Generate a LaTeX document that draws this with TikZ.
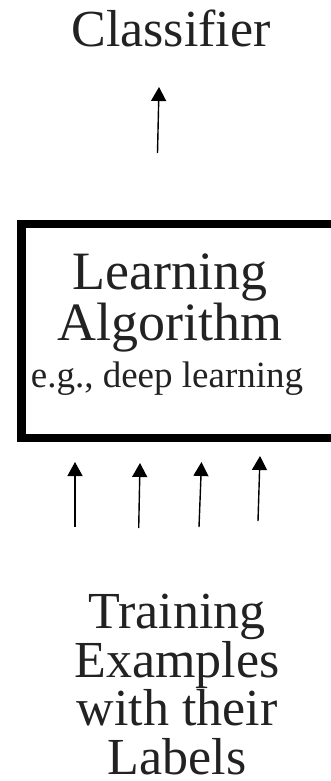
\documentclass[tikz,border=0pt]{standalone}
\usepackage{fontspec}
\setmainfont{Liberation Serif}
\usepackage{xcolor}
\usepackage{tikz}
\usetikzlibrary{arrows.meta}
\definecolor{inkgray}{HTML}{222222}

\begin{document}
\begin{tikzpicture}[
  x=1pt, y=-1pt,
  word/.style={inner sep=0pt, align=center, text=inkgray, font=\fontsize{52}{49}\selectfont},
  algobox/.style={draw, line width=8.5pt, inner sep=0pt, outer sep=0pt, anchor=north west},
  arrow/.style={-{Triangle[width=15pt,length=14pt]}, line width=1.4pt}
]
  \useasboundingbox (0,0) rectangle (331,781);
  \clip (0,0) rectangle (331,781);

  % Output
  \node[word, anchor=base] (clf) at (171,47) {Classifier};
  \coordinate (outfoot) at (157.5,153);
  \coordinate (outtip) at (159,87);

  % Learner box
  \node[algobox, minimum width=323.5pt, minimum height=214pt] (algo) at (21.5,224) {};
  \node[word, anchor=base, font=\fontsize{54}{38}\selectfont] (algoname) at (170,340) {Learning\\Algorithm};
  \node[word, anchor=base, font=\fontsize{37}{40}\selectfont] (algoeg) at (167,387) {e.g., deep learning};

  % Inputs
  \coordinate (foot1) at (75,527);   \coordinate (tip1) at (75,462);
  \coordinate (foot2) at (138.7,528); \coordinate (tip2) at (140,463);
  \coordinate (foot3) at (199,527);  \coordinate (tip3) at (201.5,462);
  \coordinate (foot4) at (258,521);  \coordinate (tip4) at (260,456);
  \node[word, anchor=base, font=\fontsize{52}{48.5}\selectfont] (train) at (177,774) {Training\\Examples\\with their\\Labels};

  \draw[arrow] (outfoot) -- (outtip);
  \foreach \i in {1,...,4}
    \draw[arrow] (foot\i) -- (tip\i);
\end{tikzpicture}
\end{document}
